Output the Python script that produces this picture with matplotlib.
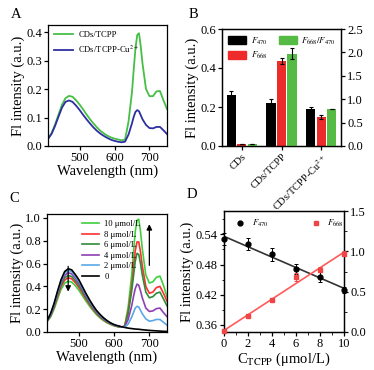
import numpy as np
import matplotlib
matplotlib.use("Agg")
import matplotlib.pyplot as plt
from matplotlib.ticker import MultipleLocator, AutoMinorLocator
from matplotlib.patches import Patch
from matplotlib.lines import Line2D

plt.rcParams['font.family'] = ['Liberation Serif', 'DejaVu Serif']
plt.rcParams['mathtext.fontset'] = 'stix'
plt.rcParams['axes.linewidth'] = 0.9
plt.rcParams['xtick.major.size'] = 3
plt.rcParams['ytick.major.size'] = 3
plt.rcParams['xtick.minor.size'] = 1.8
plt.rcParams['ytick.minor.size'] = 1.8
plt.rcParams['xtick.labelsize'] = 9
plt.rcParams['ytick.labelsize'] = 9

# ---- panel A / C wavelength grid (nm)
wl = [410, 420, 430, 440, 450, 460, 470, 480, 490, 500, 510, 520, 530, 540,
      550, 560, 570, 580, 590, 600, 610, 620, 630, 640, 650, 655, 660, 665,
      670, 675, 680, 690, 700, 710, 720, 730, 740, 750]

# ---- panel A spectra
a_tcpp = [0.025, 0.045, 0.075, 0.11, 0.145, 0.168, 0.176, 0.173, 0.161, 0.146,
          0.129, 0.111, 0.094, 0.079, 0.065, 0.053, 0.044, 0.036, 0.030, 0.026,
          0.023, 0.020, 0.022, 0.085, 0.19, 0.27, 0.345, 0.39, 0.396, 0.35,
          0.29, 0.20, 0.175, 0.175, 0.192, 0.193, 0.160, 0.130]
a_tcpp_cu = [0.025, 0.042, 0.070, 0.103, 0.135, 0.155, 0.160, 0.155, 0.142, 0.127,
             0.110, 0.094, 0.079, 0.065, 0.053, 0.043, 0.035, 0.028, 0.022, 0.018,
             0.015, 0.013, 0.015, 0.040, 0.080, 0.103, 0.120, 0.126, 0.122, 0.108,
             0.094, 0.074, 0.063, 0.062, 0.067, 0.067, 0.055, 0.042]

# ---- panel B bars
b_groups = ["CDs", "CDs/TCPP", "CDs/TCPP-Cu$^{2+}$"]
f470 = [0.264, 0.223, 0.188]
f470_err = [0.020, 0.018, 0.014]
f668 = [0.010, 0.437, 0.149]
f668_err = [0.0, 0.015, 0.010]
ratio = [0.04, 1.97, 0.78]
ratio_err = [0.0, 0.12, 0.0]

# ---- panel C spectra (TCPP concentration series)
c_labels = ["10 μmol/L", "8 μmol/L", "6 μmol/L", "4 μmol/L", "2 μmol/L", "0"]
c10 = [0.090, 0.130, 0.200, 0.290, 0.375, 0.428, 0.445, 0.438, 0.407, 0.368,
       0.321, 0.273, 0.229, 0.189, 0.153, 0.124, 0.100, 0.081, 0.066, 0.054,
       0.046, 0.042, 0.052, 0.22, 0.50, 0.70, 0.88, 0.98, 0.99, 0.88,
       0.73, 0.50, 0.43, 0.44, 0.48, 0.49, 0.41, 0.31]
c8 = [0.095, 0.140, 0.215, 0.310, 0.400, 0.455, 0.475, 0.467, 0.434, 0.393,
      0.343, 0.291, 0.244, 0.201, 0.163, 0.132, 0.107, 0.086, 0.070, 0.057,
      0.048, 0.043, 0.050, 0.18, 0.40, 0.56, 0.71, 0.79, 0.79, 0.70,
      0.58, 0.40, 0.34, 0.35, 0.39, 0.40, 0.34, 0.27]
c6 = [0.095, 0.145, 0.225, 0.325, 0.415, 0.475, 0.495, 0.487, 0.452, 0.410,
      0.357, 0.303, 0.254, 0.210, 0.170, 0.138, 0.112, 0.090, 0.073, 0.060,
      0.050, 0.044, 0.048, 0.16, 0.36, 0.49, 0.62, 0.69, 0.68, 0.60,
      0.50, 0.35, 0.30, 0.31, 0.34, 0.35, 0.29, 0.23]
c4 = [0.100, 0.150, 0.235, 0.340, 0.435, 0.495, 0.520, 0.510, 0.475, 0.430,
      0.375, 0.318, 0.267, 0.220, 0.178, 0.145, 0.117, 0.094, 0.076, 0.062,
      0.052, 0.045, 0.045, 0.11, 0.23, 0.31, 0.38, 0.42, 0.41, 0.36,
      0.30, 0.21, 0.18, 0.185, 0.205, 0.21, 0.17, 0.135]
c2 = [0.100, 0.155, 0.245, 0.350, 0.450, 0.515, 0.540, 0.530, 0.490, 0.445,
      0.390, 0.330, 0.277, 0.228, 0.185, 0.150, 0.121, 0.097, 0.078, 0.063,
      0.053, 0.045, 0.042, 0.07, 0.13, 0.17, 0.21, 0.225, 0.22, 0.19,
      0.16, 0.115, 0.095, 0.10, 0.11, 0.11, 0.085, 0.06]
c0 = [0.100, 0.160, 0.250, 0.360, 0.460, 0.530, 0.555, 0.545, 0.505, 0.460,
      0.400, 0.340, 0.285, 0.235, 0.190, 0.155, 0.125, 0.100, 0.080, 0.065,
      0.055, 0.047, 0.040, 0.034, 0.030, 0.028, 0.026, 0.025, 0.024, 0.022,
      0.020, 0.017, 0.014, 0.012, 0.010, 0.008, 0.006, 0.005]

# ---- panel D
conc = [0, 2, 4, 6, 8, 10]
d_f470 = [0.530, 0.520, 0.500, 0.472, 0.455, 0.429]
d_f470_err = [0.012, 0.012, 0.012, 0.010, 0.010, 0.006]
d_f668 = [0.01, 0.199, 0.40, 0.68, 0.77, 0.97]
d_f668_err = [0.01, 0.01, 0.01, 0.05, 0.03, 0.03]

W, H = 374, 370
fig = plt.figure(figsize=(W / 100, H / 100), dpi=100)


def box(l, t, r, b):
    return [l / W, 1 - b / H, (r - l) / W, (b - t) / H]


def style(ax):
    ax.tick_params(direction='out', width=0.9, pad=1.5)


# ===== A
axA = fig.add_axes(box(48, 25, 167, 146))
axA.plot(wl, a_tcpp, color='#45bf45', lw=1.3, label='CDs/TCPP')
axA.plot(wl, a_tcpp_cu, color='#2f2fa0', lw=1.3, label='CDs/TCPP-Cu$^{2+}$')
axA.set_xlim(410, 750)
axA.set_ylim(0, 0.425)
axA.xaxis.set_major_locator(MultipleLocator(100))
axA.yaxis.set_major_locator(MultipleLocator(0.1))
axA.set_xlabel('Wavelength (nm)', fontsize=10.5, labelpad=0)
axA.set_ylabel('Fl intensity (a.u.)', fontsize=10.5, labelpad=1)
axA.legend(loc='upper left', frameon=False, fontsize=6.2, handlelength=2.2,
           handletextpad=0.6, labelspacing=0.5, borderaxespad=0.3)
style(axA)

# ===== B
axB = fig.add_axes(box(222, 29, 341, 146))
axB2 = axB.twinx()
x = np.arange(len(b_groups))
bw, off = 0.23, 0.265
ek = dict(capsize=1.5, elinewidth=0.8, capthick=0.8, ecolor='black')
axB.bar(x - off, f470, bw, yerr=f470_err, color='black', error_kw=ek)
axB.bar(x, f668, bw, yerr=f668_err, color='#ee2b2b', error_kw=ek)
axB2.bar(x + off, ratio, bw, yerr=ratio_err, color='#55bb44', error_kw=ek)
axB.set_xlim(-0.5, 2.5)
axB.set_ylim(0, 0.6)
axB2.set_ylim(0, 2.5)
axB.yaxis.set_major_locator(MultipleLocator(0.2))
axB2.yaxis.set_major_locator(MultipleLocator(0.5))
axB.set_xticks(x)
axB.set_xticklabels(b_groups, rotation=45, ha='right', rotation_mode='anchor',
                    fontsize=7.5)
axB.set_ylabel('Fl intensity (a.u.)', fontsize=10.5, labelpad=1)
handles = [Patch(color='black'), Patch(color='#ee2b2b'), Patch(color='#55bb44')]
labels = ['$F_{470}$', '$F_{668}$', '$F_{668}/F_{470}$']
axB.legend(handles, labels, loc='upper left', ncol=2, frameon=False, fontsize=6.5,
           handlelength=2.0, handleheight=0.9, handletextpad=0.5,
           columnspacing=1.2, labelspacing=0.4, borderaxespad=0.3)
style(axB)
style(axB2)

# ===== C
axC = fig.add_axes(box(47, 214, 167, 332))
c_series = [c10, c8, c6, c4, c2, c0]
c_colors = ['#3fcf3f', '#ff3030', '#2f8a3a', '#8e3fb3', '#5aa8e8', 'black']
for ys, col, lab in zip(c_series, c_colors, c_labels):
    axC.plot(wl, ys, color=col, lw=1.2, label=lab)
axC.annotate('', xy=(470, 0.33), xytext=(470, 0.60),
             arrowprops=dict(arrowstyle='-|>', color='black', lw=0.9,
                             mutation_scale=8))
axC.annotate('', xy=(700, 0.97), xytext=(700, 0.56),
             arrowprops=dict(arrowstyle='-|>', color='black', lw=0.9,
                             mutation_scale=8))
axC.set_xlim(410, 750)
axC.set_ylim(0, 1.035)
axC.xaxis.set_major_locator(MultipleLocator(100))
axC.yaxis.set_major_locator(MultipleLocator(0.2))
axC.set_xlabel('Wavelength (nm)', fontsize=10.5, labelpad=0)
axC.set_ylabel('Fl intensity (a.u.)', fontsize=10.5, labelpad=1)
axC.legend(loc='upper left', bbox_to_anchor=(0.24, 1.0), frameon=False,
           fontsize=6.2, handlelength=2.0, handletextpad=0.6,
           labelspacing=0.3, borderaxespad=0.3)
style(axC)

# ===== D
axD = fig.add_axes(box(224, 211, 344, 332))
axD2 = axD.twinx()
p1 = np.polyfit(conc, d_f470, 1)
p2 = np.polyfit(conc, d_f668, 1)
xx = np.array([conc[0], conc[-1]])
axD.plot(xx, np.polyval(p1, xx), color='#333333', lw=1.2)
axD.errorbar(conc, d_f470, yerr=d_f470_err, fmt='o', color='black', ms=3.5,
             capsize=1.5, elinewidth=0.7, capthick=0.7, clip_on=False, zorder=5)
axD2.plot(xx, np.polyval(p2, xx), color='#ff5a5a', lw=1.2)
axD2.errorbar(conc, d_f668, yerr=d_f668_err, fmt='s', color='#f04545', ms=3.5,
              capsize=1.5, elinewidth=0.7, capthick=0.7, clip_on=False, zorder=5)
axD.set_xlim(0, 10)
axD.set_ylim(0.345, 0.587)
axD2.set_ylim(0, 1.5)
axD.xaxis.set_major_locator(MultipleLocator(2))
axD.yaxis.set_major_locator(MultipleLocator(0.06))
axD2.yaxis.set_major_locator(MultipleLocator(0.5))
axD.xaxis.set_minor_locator(AutoMinorLocator(2))
axD.yaxis.set_minor_locator(AutoMinorLocator(2))
axD2.yaxis.set_minor_locator(AutoMinorLocator(2))
axD.set_xlabel(r'C$_{\mathrm{TCPP}}$ (μmol/L)', fontsize=10.5, labelpad=0)
axD.set_ylabel('Fl intensity (a.u.)', fontsize=10.5, labelpad=1)
dh = [Line2D([], [], ls='none', marker='o', color='black', ms=3.5),
      Line2D([], [], ls='none', marker='s', color='#f04545', ms=3.5)]
axD.legend(dh, ['$F_{470}$', '$F_{668}$'], loc='upper left', ncol=2,
           frameon=False, fontsize=6.5, handletextpad=0.3, columnspacing=4.2,
           borderaxespad=0.4)
style(axD)
style(axD2)

# panel letters
for lab, px, py in [('A', 16, 14), ('B', 193, 14), ('C', 14, 198), ('D', 192, 195)]:
    fig.text(px / W, 1 - py / H, lab, fontsize=10.5, ha='center', va='center')

fig.savefig('out.png', dpi=100)
